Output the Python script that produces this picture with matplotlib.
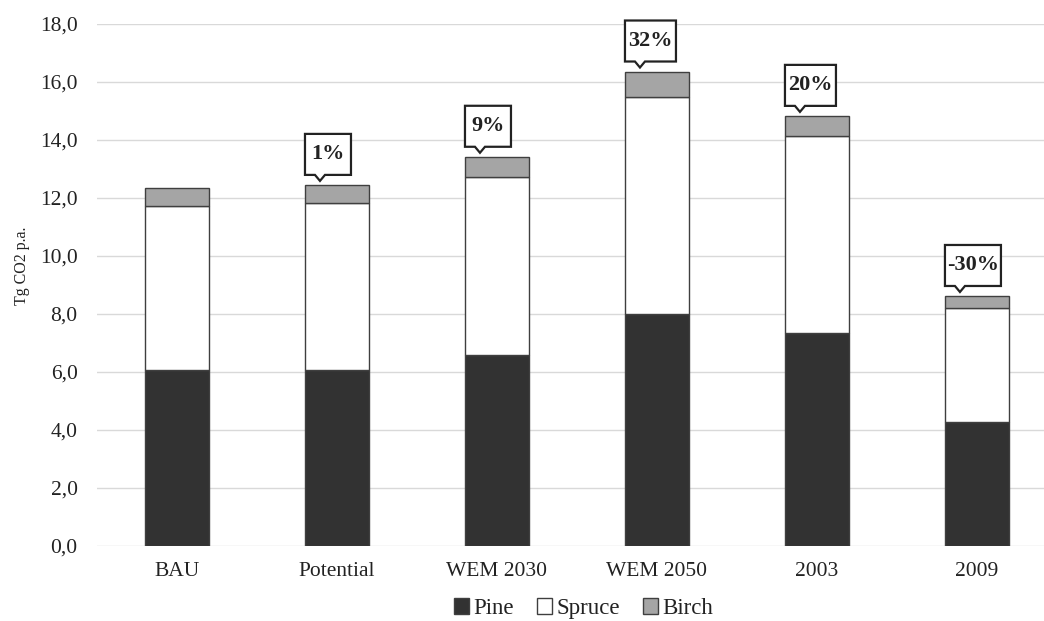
import matplotlib.pyplot as plt
import matplotlib.transforms as mtransforms
from matplotlib.patches import Polygon, Patch
import numpy as np

plt.rcParams['font.family'] = ['Liberation Serif', 'DejaVu Serif']

# scenarios and removals per species (Tg CO2 p.a.)
scenarios = ['BAU', 'Potential', 'WEM 2030', 'WEM 2050', '2003', '2009']
pine = [6.06, 6.06, 6.57, 7.99, 7.34, 4.28]
spruce = [5.66, 5.77, 6.15, 7.47, 6.80, 3.91]
birch = [0.60, 0.61, 0.69, 0.89, 0.68, 0.42]
# change vs BAU, shown in the callouts (None = no callout)
change = [None, '1%', '9%', '32%', '20%', '-30%']

fig = plt.figure(figsize=(10.44, 6.21), dpi=100)
ax = fig.add_axes([0.0929, 0.1213, 0.9195, 0.8406])

x = np.arange(len(scenarios))
pine = np.array(pine)
spruce = np.array(spruce)
birch = np.array(birch)
edge = '#3f3f3f'
w = 0.4
ax.bar(x, pine, w, color='#323232', edgecolor=edge, linewidth=1.0, zorder=3)
ax.bar(x, spruce, w, bottom=pine, color='white', edgecolor=edge, linewidth=1.0, zorder=3)
ax.bar(x, birch, w, bottom=pine + spruce, color='#a5a5a5', edgecolor=edge, linewidth=1.0, zorder=3)

ax.set_xlim(-0.5, len(scenarios) - 0.5)
ax.set_ylim(0, 18)
ax.set_yticks(np.arange(0, 18.1, 2))
ax.set_yticklabels([f'{v:.1f}'.replace('.', ',') for v in np.arange(0, 18.1, 2)])
ax.set_xticks(x)
ax.set_xticklabels(scenarios)
ax.tick_params(axis='both', length=0, labelsize=15.5, colors='#222222')
ax.tick_params(axis='y', pad=14)
ax.tick_params(axis='x', pad=12)
ax.grid(axis='y', color='#d9d9d9', linewidth=1.0, zorder=0)
for s in ax.spines.values():
    s.set_visible(False)

fig.text(0.021, 0.572, 'Tg CO2 p.a.', rotation=90, ha='center', va='center',
         fontsize=11.5, color='#222222')

# callout boxes above the bars
fig.canvas.draw()
totals = pine + spruce + birch
for i, lab in enumerate(change):
    if lab is None:
        continue
    px, py = ax.transData.transform((x[i], totals[i]))
    tip_x, tip_y = -17, 4
    left = -32
    bw = 36 + 5 * len(lab)
    bot, top = 10, 51
    pts = [(left, bot), (tip_x - 5, bot), (tip_x, tip_y), (tip_x + 5, bot),
           (left + bw, bot), (left + bw, top), (left, top)]
    tr = mtransforms.Affine2D().translate(px, py)
    poly = Polygon(pts, closed=True, facecolor='white', edgecolor='#222222',
                   linewidth=1.6, transform=tr, zorder=5)
    fig.add_artist(poly)
    fig.text(px + left + bw / 2, py + (bot + top) / 2, lab, transform=None,
             ha='center', va='center', fontsize=16, fontweight='bold',
             color='#222222', zorder=6)

handles = [Patch(facecolor='#323232', edgecolor=edge),
           Patch(facecolor='white', edgecolor=edge),
           Patch(facecolor='#a5a5a5', edgecolor=edge)]
fig.legend(handles, ['Pine', 'Spruce', 'Birch'], loc='center',
           bbox_to_anchor=(0.559, 0.02), ncol=3, frameon=False,
           fontsize=16.5, handlelength=0.65, handleheight=0.65,
           handletextpad=0.2, columnspacing=1.0, labelcolor='#222222')

fig.savefig('out.png', dpi=100)
